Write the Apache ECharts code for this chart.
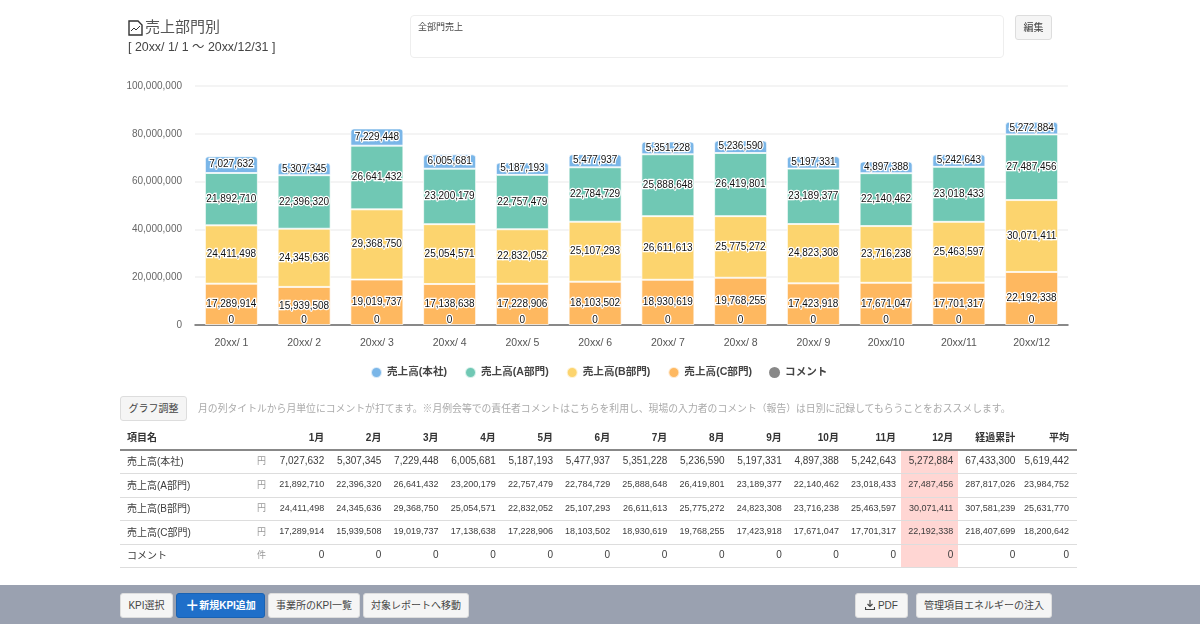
<!DOCTYPE html>
<html lang="ja">
<head>
<meta charset="utf-8">
<title>売上部門別</title>
<script src="https://cdn.jsdelivr.net/npm/echarts@6/dist/echarts.min.js"></script>
<style>
html, body { margin: 0; padding: 0; background: #fff; overflow: hidden; }
body { width: 1200px; height: 624px; position: relative; font-family: "Liberation Sans", "Noto Sans CJK JP", sans-serif; color: #444; }
#chart { position: absolute; left: 0; top: 0; width: 1200px; height: 624px; }
.abs { position: absolute; white-space: nowrap; }
.btn { position: absolute; box-sizing: border-box; height: 25px; line-height: 23px; text-align: center; font-size: 10px; color: #444; background: #f5f5f5; border: 1px solid #ddd; border-radius: 3px; white-space: nowrap; }
.btn.blue { background: #1f6fc9; border-color: #1a62b2; color: #fff; font-weight: bold; }
#table { position: absolute; left: 120px; top: 424px; width: 957px; border-collapse: collapse; table-layout: fixed; font-size: 10px; color: #3c3c3c; }
#table th { height: 25px; padding: 0 5px 0 0; text-align: right; font-size: 10px; color: #333; border-bottom: 2px solid #888; }
#table th:first-child { text-align: left; padding-left: 7px; }
#table td { padding: 0 5px 2px 0; text-align: right; border-bottom: 1px solid #ddd; }
#table td.name { text-align: left; padding-left: 7px; font-size: 10px; }
#table td.unit { color: #999; font-size: 9px; padding-right: 6px; }
#table .now { background: #ffd6d3; }
#footer { position: absolute; left: 0; top: 585px; width: 1200px; height: 39px; background: #9aa1b0; }
</style>
</head>
<body>
<div id="chart"></div>

<svg class="abs" style="left:128px;top:20px" width="15" height="16" viewBox="0 0 15 16">
  <path d="M1 1h9l4 4v10H1z" fill="none" stroke="#333" stroke-width="1.4"/>
  <path d="M3 11l3-3 2 2 4-4" fill="none" stroke="#333" stroke-width="1"/>
</svg>
<div class="abs" style="left:145px;top:17px;font-size:15px;line-height:20px;color:#555">売上部門別</div>
<div class="abs" style="left:128px;top:40px;font-size:12.4px;line-height:15px;color:#444">[ 20xx/ 1/ 1 ～ 20xx/12/31 ]</div>
<div class="abs" style="left:410px;top:15px;width:592px;height:41px;border:1px solid #eee;border-radius:4px"></div>
<div class="abs" style="left:418px;top:21px;font-size:9px;line-height:12px;color:#444">全部門売上</div>
<div class="btn" style="left:1015px;top:15px;width:37px">編集</div>

<div class="btn" style="left:120px;top:396px;width:67px">グラフ調整</div>
<div class="abs" style="left:198px;top:402px;font-size:9.83px;line-height:14px;color:#aaa">月の列タイトルから月単位にコメントが打てます。※月例会等での責任者コメントはこちらを利用し、現場の入力者のコメント（報告）は日別に記録してもらうことをおススメします。</div>

<table id="table"></table>

<div id="footer"></div>
<div class="btn" style="left:120px;top:593px;width:53px">KPI選択</div>
<div class="btn blue" style="left:176px;top:593px;width:89px"><span style="font-size:14px;vertical-align:-1px">＋</span>新規KPI追加</div>
<div class="btn" style="left:268px;top:593px;width:92px">事業所のKPI一覧</div>
<div class="btn" style="left:363px;top:593px;width:106px">対象レポートへ移動</div>
<div class="btn" style="left:855px;top:593px;width:53px">
  <svg width="10" height="10" viewBox="0 0 10 10" style="vertical-align:-1px"><path d="M5 0v6M2.5 4L5 6.5 7.5 4M0.5 7v2.5h9V7" fill="none" stroke="#444" stroke-width="1.2"/></svg>
  PDF</div>
<div class="btn" style="left:916px;top:593px;width:136px">管理項目エネルギーの注入</div>

<script>
var categories = ['20xx/ 1', '20xx/ 2', '20xx/ 3', '20xx/ 4', '20xx/ 5', '20xx/ 6', '20xx/ 7', '20xx/ 8', '20xx/ 9', '20xx/10', '20xx/11', '20xx/12'];
var months = ['1月', '2月', '3月', '4月', '5月', '6月', '7月', '8月', '9月', '10月', '11月', '12月'];

var honsha = [7027632, 5307345, 7229448, 6005681, 5187193, 5477937, 5351228, 5236590, 5197331, 4897388, 5242643, 5272884];
var bumonA = [21892710, 22396320, 26641432, 23200179, 22757479, 22784729, 25888648, 26419801, 23189377, 22140462, 23018433, 27487456];
var bumonB = [24411498, 24345636, 29368750, 25054571, 22832052, 25107293, 26611613, 25775272, 24823308, 23716238, 25463597, 30071411];
var bumonC = [17289914, 15939508, 19019737, 17138638, 17228906, 18103502, 18930619, 19768255, 17423918, 17671047, 17701317, 22192338];
var comment = [0, 0, 0, 0, 0, 0, 0, 0, 0, 0, 0, 0];

// 経過累計, 平均
var totalsHonsha = [67433300, 5619442];
var totalsA = [287817026, 23984752];
var totalsB = [307581239, 25631770];
var totalsC = [218407699, 18200642];
var totalsComment = [0, 0];

function fmt(v) {
  return String(v).replace(/\B(?=(\d{3})+$)/g, ',');
}

// 表
var rows = [
  { name: '売上高(本社)', unit: '円', values: honsha, totals: totalsHonsha, size: 10, height: 23 },
  { name: '売上高(A部門)', unit: '円', values: bumonA, totals: totalsA, size: 9, height: 24 },
  { name: '売上高(B部門)', unit: '円', values: bumonB, totals: totalsB, size: 9, height: 23 },
  { name: '売上高(C部門)', unit: '円', values: bumonC, totals: totalsC, size: 9, height: 24 },
  { name: 'コメント', unit: '件', values: comment, totals: totalsComment, size: 10, height: 23 }
];
var html = '<colgroup><col style="width:128px"><col style="width:24px">';
months.forEach(function () { html += '<col style="width:57.2px">'; });
html += '<col style="width:62px"><col style="width:56.6px"></colgroup>';
html += '<tr><th colspan="2">項目名</th>';
months.forEach(function (m) { html += '<th>' + m + '</th>'; });
html += '<th>経過累計</th><th style="padding-right:8px">平均</th></tr>';
rows.forEach(function (r) {
  html += '<tr style="height:' + r.height + 'px;font-size:' + r.size + 'px"><td class="name">' + r.name + '</td><td class="unit">' + r.unit + '</td>';
  r.values.forEach(function (v, i) {
    html += '<td' + (i === 11 ? ' class="now"' : '') + '>' + fmt(v) + '</td>';
  });
  html += '<td>' + fmt(r.totals[0]) + '</td><td style="padding-right:8px">' + fmt(r.totals[1]) + '</td></tr>';
});
document.getElementById('table').innerHTML = html;

// グラフ
var chart = echarts.init(document.getElementById('chart'));
var fontFamily = '"Liberation Sans", "Noto Sans CJK JP", sans-serif';

function makeSeries(name, data, color, position, radius, borderWidth) {
  return {
    name: name,
    type: 'bar',
    stack: 'total',
    barWidth: 53,
    data: data,
    itemStyle: {
      color: color,
      borderColor: 'rgba(255,255,255,0.7)',
      borderWidth: borderWidth === undefined ? 1 : borderWidth,
      borderRadius: radius || 0
    },
    label: {
      show: true,
      position: position,
      distance: 0,
      formatter: function (p) { return fmt(p.value); },
      fontFamily: fontFamily,
      fontSize: 10,
      color: '#111',
      textBorderColor: '#fff',
      textBorderWidth: 2.5
    }
  };
}

var option = {
  animation: false,
  grid: { left: 195, right: 132, top: 86, bottom: 299, containLabel: false },
  legend: {
    top: 361,
    left: 365,
    icon: 'circle',
    itemWidth: 11,
    itemHeight: 11,
    itemGap: 17,
    textStyle: { fontFamily: fontFamily, fontSize: 10.6, fontWeight: 'bold', color: '#444' },
    data: ['売上高(本社)', '売上高(A部門)', '売上高(B部門)', '売上高(C部門)', 'コメント']
  },
  xAxis: {
    type: 'category',
    data: categories,
    axisTick: { show: false },
    axisLine: { lineStyle: { color: '#666', width: 1.5 } },
    axisLabel: { margin: 13, fontFamily: fontFamily, fontSize: 10.5, color: '#555' }
  },
  yAxis: {
    type: 'value',
    min: 0,
    max: 100000000,
    interval: 20000000,
    axisLine: { show: false },
    axisTick: { show: false },
    splitLine: { lineStyle: { color: '#f0f0f0', width: 1.5 } },
    axisLabel: {
      margin: 13,
      padding: [4, 0, 0, 0],
      fontFamily: fontFamily,
      fontSize: 10,
      color: '#666',
      formatter: function (v) { return fmt(v); }
    }
  },
  series: [
    makeSeries('コメント', comment, '#888888', 'insideBottom', 0, 0),
    makeSeries('売上高(C部門)', bumonC, '#feb860', 'inside'),
    makeSeries('売上高(B部門)', bumonB, '#fcd46e', 'inside'),
    makeSeries('売上高(A部門)', bumonA, '#70c8b4', 'inside'),
    makeSeries('売上高(本社)', honsha, '#7ab6e8', 'inside', [3, 3, 0, 0])
  ]
};
chart.setOption(option);
</script>
</body>
</html>
